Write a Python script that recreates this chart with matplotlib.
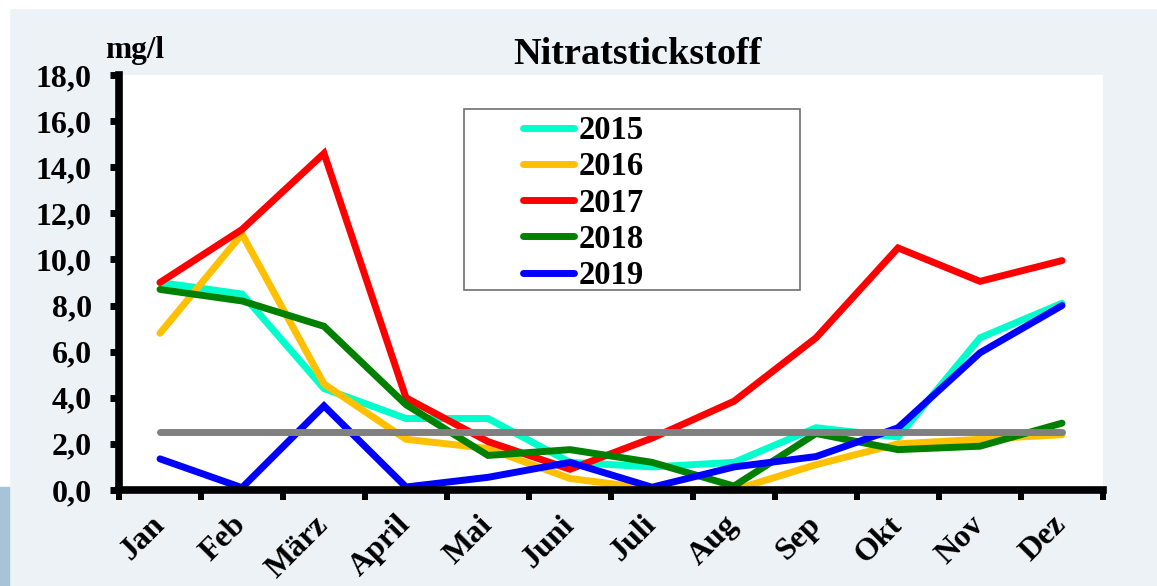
import matplotlib
matplotlib.use("Agg")
import matplotlib.pyplot as plt
from matplotlib.patches import Rectangle
from matplotlib.ticker import FuncFormatter

# Nitratstickstoff, mg/l, Monatswerte
months = ["Jan", "Feb", "März", "April", "Mai", "Juni",
          "Juli", "Aug", "Sep", "Okt", "Nov", "Dez"]
years = ["2015", "2016", "2017", "2018", "2019"]
colors = ["#00ffcc", "#ffc000", "#ff0000", "#008000", "#0000ff"]

n2015 = [9.0, 8.5, 4.4, 3.1, 3.1, 1.2, 1.0, 1.2, 2.7, 2.3, 6.6, 8.1]
n2016 = [6.8, 11.1, 4.6, 2.2, 1.8, 0.5, 0.05, 0.0, 1.1, 2.0, 2.2, 2.4]
n2017 = [9.0, 11.3, 14.6, 4.0, 2.1, 0.9, 2.25, 3.85, 6.6, 10.5, 9.05, 9.95]
n2018 = [8.7, 8.2, 7.1, 3.7, 1.5, 1.75, 1.2, 0.17, 2.45, 1.75, 1.9, 2.9]
n2019 = [1.35, 0.1, 3.65, 0.13, 0.55, 1.2, 0.12, 1.0, 1.45, 2.7, 5.95, 8.0]
limit = [2.5, 2.5, 2.5, 2.5, 2.5, 2.5, 2.5, 2.5, 2.5, 2.5, 2.5, 2.5]

series = [n2015, n2016, n2017, n2018, n2019]

plt.rcParams['font.family'] = ['Liberation Serif', 'DejaVu Serif']
plt.rcParams['font.weight'] = 'bold'

W, H = 1157, 586
fig = plt.figure(figsize=(W / 100, H / 100), dpi=100, facecolor='#edf2f7')

# white frame strips and the blue block bottom left
fig.patches.append(Rectangle((0, 1 - 8 / H), 1, 8 / H, transform=fig.transFigure,
                             color='white', zorder=0))
fig.patches.append(Rectangle((0, 1 - 487 / H), 9 / W, 487 / H, transform=fig.transFigure,
                             color='white', zorder=0))
fig.patches.append(Rectangle((0, 0), 9 / W, 1 - 487 / H, transform=fig.transFigure,
                             color='#a5c3d9', zorder=0))

ax = fig.add_axes([119 / W, 1 - 490 / H, (1103 - 119) / W, (490 - 75) / H])
ax.set_facecolor('white')

x = list(range(len(months)))
for vals, yr, c in zip(series, years, colors):
    ax.plot(x, vals, color=c, lw=5, solid_capstyle='round', solid_joinstyle='miter',
            label=yr, clip_on=False)
ax.plot(x, limit, color='#808080', lw=5, solid_capstyle='round', clip_on=False)

ax.set_xlim(-0.5, 11.5)
ax.set_ylim(0, 18)

for s in ['top', 'right']:
    ax.spines[s].set_visible(False)
for s in ['left', 'bottom']:
    ax.spines[s].set_linewidth(5.5)
    ax.spines[s].set_color('black')

ax.set_yticks(range(0, 19, 2))
ax.yaxis.set_major_formatter(FuncFormatter(lambda v, p: f"{v:.1f}".replace('.', ',')))
ax.tick_params(axis='y', direction='out', length=6.5, width=5, pad=13,
               labelsize=23, colors='black')

ax.set_xticks(x)
ax.set_xticklabels(months)
ax.set_xticks([i - 0.5 for i in range(len(months) + 1)], minor=True)
ax.tick_params(axis='x', which='major', length=0, pad=22, labelsize=23)
ax.tick_params(axis='x', which='minor', direction='out', length=7.2, width=4.3)
for lab in ax.get_xticklabels():
    lab.set_rotation(45)
    lab.set_ha('right')
    lab.set_va('center')
    lab.set_rotation_mode('anchor')

# legend box
ax.add_patch(Rectangle((0.3506, 0.483), 0.3415, 0.435, transform=ax.transAxes,
                       facecolor='white', edgecolor='#707070', lw=1.2, zorder=1))
leg = ax.legend(loc='upper left', bbox_to_anchor=(0.411, 0.903), frameon=False,
                borderpad=0, borderaxespad=0, handlelength=1.55, handletextpad=0.15,
                labelspacing=0.16, prop={'size': 23.5, 'weight': 'bold'})

fig.text(105 / W, 1 - 58 / H, "mg/l", fontsize=22.5, fontweight='bold', va='baseline')
fig.text(638 / W, 1 - 64 / H, "Nitratstickstoff", fontsize=27.5, fontweight='bold',
         ha='center', va='baseline')

fig.savefig("out.png", dpi=100, facecolor=fig.get_facecolor())
